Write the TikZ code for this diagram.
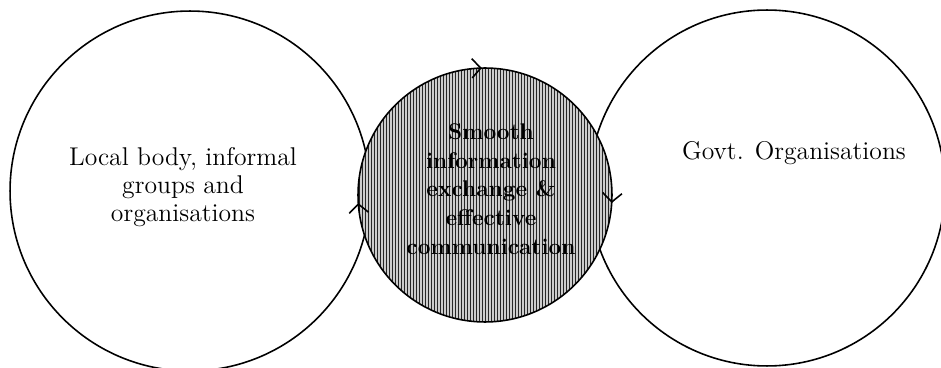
\documentclass[tikz,border=0pt]{standalone}
\usetikzlibrary{decorations.markings,arrows.meta}

\tikzset{
  ring/.style={draw, line width=0.9pt},
  hub/.style={ring,
    postaction={decorate},
    decoration={markings,
      mark=at position 0.254 with {\arrowreversed{Straight Barb[length=5pt,width=11pt,line width=0.9pt]}},
      mark=at position 0.510 with {\arrowreversed{Straight Barb[length=5pt,width=11pt,line width=0.9pt]}},
      mark=at position 0.990 with {\arrowreversed{Straight Barb[length=5pt,width=11pt,line width=0.9pt]}}}},
  hatch/.style={line width=0.55pt, black!85},
  blurb/.style={align=center, font=\fontsize{14.6}{16}\selectfont},
  hubtext/.style={align=center, font=\fontsize{12.9}{16.3}\selectfont\bfseries}
}

\begin{document}
\begin{tikzpicture}[x=0.02cm, y=-0.02cm]
  \useasboundingbox (0,0) rectangle (941,368);
  \clip (0,0) rectangle (941,368);
  \fill[white] (0,0) rectangle (941,368);

  \coordinate (local) at (190,191);
  \coordinate (govt) at (767,188);
  \coordinate (hub) at (485,195);

  % outer circles
  \draw[ring] (local) circle[radius=3.6cm];
  \draw[ring] (govt) circle[radius=3.56cm];

  % shared circle on top, hatched
  \begin{scope}
    \clip (hub) circle[radius=2.54cm];
    \fill[gray!40] (hub) circle[radius=2.54cm];
    \foreach \i in {356,359,...,616}
      \draw[hatch] (\i,60) -- (\i,330);
  \end{scope}
  \path[hub] (hub) circle[radius=2.54cm];

  \node[blurb] (localtext) at (183,187) {Local body, informal\\groups and\\organisations};
  \node[blurb] (govttext) at (794,153) {Govt. Organisations};
  \node[hubtext] (hubtext) at (491,189) {Smooth\\information\\exchange \&\\effective\\communication};
\end{tikzpicture}
\end{document}
